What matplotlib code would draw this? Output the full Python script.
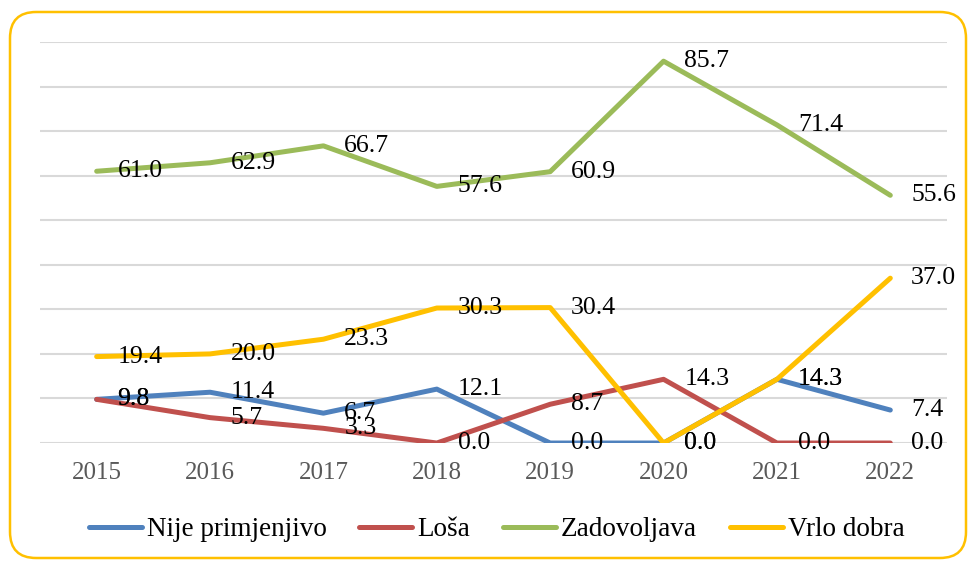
import matplotlib.pyplot as plt
from matplotlib.patches import FancyBboxPatch

years = ['2015', '2016', '2017', '2018', '2019', '2020', '2021', '2022']
nije_primjenjivo = [9.8, 11.4, 6.7, 12.1, 0.0, 0.0, 14.3, 7.4]
losa = [9.8, 5.7, 3.3, 0.0, 8.7, 14.3, 0.0, 0.0]
zadovoljava = [61.0, 62.9, 66.7, 57.6, 60.9, 85.7, 71.4, 55.6]
vrlo_dobra = [19.4, 20.0, 23.3, 30.3, 30.4, 0.0, 14.3, 37.0]

series = [
    ('Nije primjenjivo', nije_primjenjivo, '#4F81BD'),
    ('Loša', losa, '#C0504D'),
    ('Zadovoljava', zadovoljava, '#9BBB59'),
    ('Vrlo dobra', vrlo_dobra, '#FFC000'),
]

plt.rcParams['font.family'] = ['Liberation Serif', 'DejaVu Serif']

fig = plt.figure(figsize=(9.68, 5.62), dpi=100)
ax = fig.add_axes([0.0413, 0.2117, 0.937, 0.7135])

x = list(range(len(years)))
for name, vals, color in series:
    ax.plot(x, vals, color=color, linewidth=3.6, solid_capstyle='round',
            solid_joinstyle='round', label=name, zorder=3)

# data labels to the right of each point
for name, vals, color in series:
    for xi, v in zip(x, vals):
        ax.annotate(f'{v:.1f}', (xi, v), xytext=(15, 0), textcoords='offset points',
                    ha='left', va='center', fontsize=18.5, color='black', zorder=5)

ax.set_xlim(-0.5, len(years) - 0.5)
ax.set_ylim(0, 90)
ax.set_yticks(range(0, 91, 10))
ax.set_xticks(x)
ax.set_xticklabels(years, fontsize=18, color='#595959')
ax.tick_params(axis='x', length=0, pad=14)
ax.tick_params(axis='y', length=0, labelleft=False)
ax.grid(axis='y', color='#D9D9D9', linewidth=1.5, zorder=0)
for s in ax.spines.values():
    s.set_visible(False)

fig.legend(loc='center', bbox_to_anchor=(0.513, 0.057), ncol=4, frameon=False,
           fontsize=19.5, handlelength=1.96, handletextpad=0.19, columnspacing=1.2)

# rounded yellow frame around the chart
frame = FancyBboxPatch((10 / 968, 4 / 562), 956 / 968, 546 / 562,
                       boxstyle='round,pad=0,rounding_size=0.027',
                       transform=fig.transFigure, facecolor='none',
                       edgecolor='#FFC000', linewidth=1.8, zorder=0,
                       mutation_aspect=968 / 562)
fig.patches.append(frame)

fig.savefig('out.png', dpi=100)
